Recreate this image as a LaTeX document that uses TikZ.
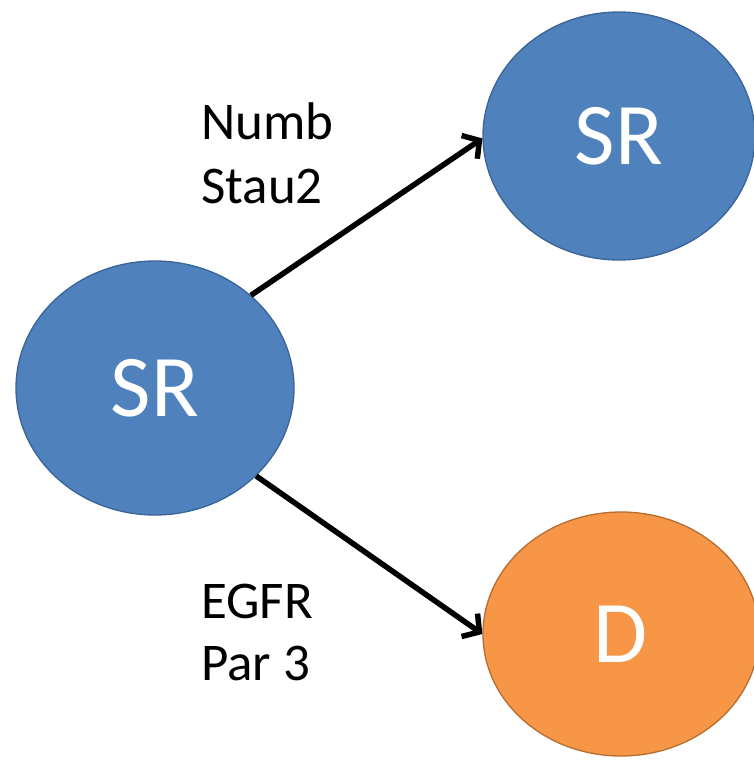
\documentclass[tikz,border=0pt]{standalone}
\usepackage{fontspec}
\setmainfont{Carlito}
\usetikzlibrary{shapes.geometric,arrows.meta}
\definecolor{srblue}{HTML}{4F81BD}
\definecolor{srblueline}{HTML}{3A6396}
\definecolor{dorange}{HTML}{F79646}
\definecolor{dorangeline}{HTML}{B66D31}
\tikzset{
  cell/.style={ellipse, inner sep=0pt, line width=1.3pt, text=white,
    font=\fontsize{88}{100}\selectfont},
  srcell/.style={cell, fill=srblue, draw=srblueline},
  dcell/.style={cell, fill=dorange, draw=dorangeline},
  lab/.style={anchor=base west, inner sep=0pt, text=black,
    font=\fontsize{53}{60}\selectfont},
  conn/.style={line width=5.5pt, -{Straight Barb[length=12pt,width=28pt,line width=5.5pt]}}
}
\begin{document}
\begin{tikzpicture}[x=1pt,y=-1pt]
\useasboundingbox (0,0) rectangle (753,766);
\node[srcell, minimum width=278pt, minimum height=254pt] (L) at (155,388) {SR};
\node[srcell, minimum width=272pt, minimum height=248pt] (TR) at (619,136) {SR};
\node[dcell, minimum width=276pt, minimum height=244pt] (D) at (621,634) {D};
\node[lab] (n1) at (201,139) {Numb};
\node[lab] (n2) at (201,203) {Stau2};
\node[lab] (n3) at (201,618) {EGFR};
\node[lab] (n4) at (201,680) {Par 3};
\draw[conn] (L.44) -- (TR.181);
\draw[conn] (L.-41) -- (D.180);
\end{tikzpicture}
\end{document}
